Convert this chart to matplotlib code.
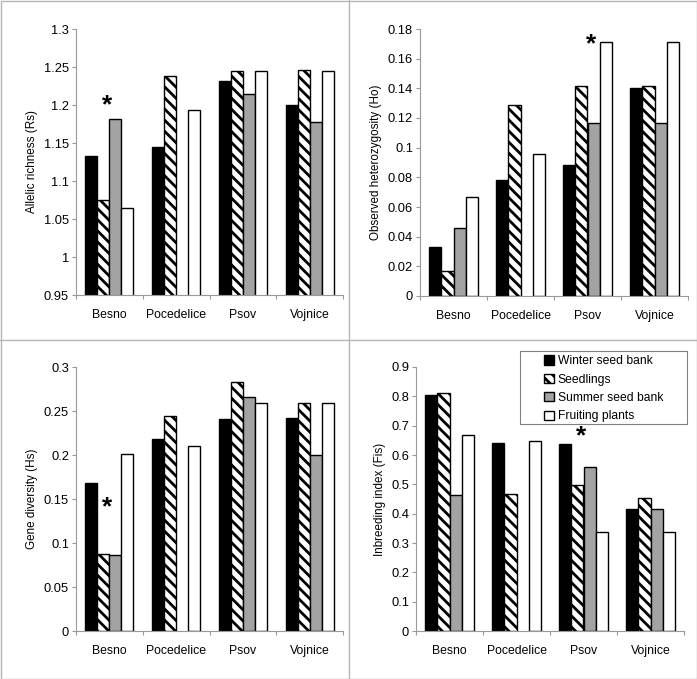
import numpy as np
import matplotlib
matplotlib.use("Agg")
import matplotlib.pyplot as plt
from matplotlib.lines import Line2D
from matplotlib.patches import Rectangle
from matplotlib.ticker import FormatStrFormatter

plt.rcParams['font.family'] = ['Liberation Sans', 'DejaVu Sans']
plt.rcParams['hatch.linewidth'] = 2.0

sites = ['Besno', 'Pocedelice', 'Psov', 'Vojnice']
stages = ['Winter seed bank', 'Seedlings', 'Summer seed bank', 'Fruiting plants']
nan = np.nan

# allelic richness (Rs)
rs_winter = [1.133, 1.145, 1.231, 1.200]
rs_seedlings = [1.075, 1.238, 1.245, 1.246]
rs_summer = [1.182, nan, 1.215, 1.177]
rs_fruiting = [1.064, 1.194, 1.245, 1.245]

# observed heterozygosity (Ho)
ho_winter = [0.033, 0.078, 0.088, 0.140]
ho_seedlings = [0.017, 0.129, 0.1415, 0.1415]
ho_summer = [0.046, nan, 0.1166, 0.1166]
ho_fruiting = [0.067, 0.096, 0.171, 0.171]

# gene diversity (Hs)
hs_winter = [0.168, 0.218, 0.241, 0.242]
hs_seedlings = [0.088, 0.244, 0.283, 0.259]
hs_summer = [0.086, nan, 0.266, 0.200]
hs_fruiting = [0.201, 0.210, 0.259, 0.259]

# inbreeding index (Fis)
fis_winter = [0.803, 0.642, 0.636, 0.417]
fis_seedlings = [0.810, 0.467, 0.497, 0.452]
fis_summer = [0.465, nan, 0.560, 0.417]
fis_fruiting = [0.667, 0.647, 0.336, 0.336]

W, H = 697., 679.
fig = plt.figure(figsize=(W/100, H/100), dpi=100)

def px_axes(left, right, top, bottom):
	return fig.add_axes([left/W, 1-bottom/H, (right-left)/W, (bottom-top)/H])

def panel(ax, series, ylo, yhi, ystep, ylabel, fmt, star):
	x = np.arange(len(sites))
	bw = 0.18
	styles = [dict(color='black'), dict(color='white', hatch='\\\\\\'),
	          dict(color='#a3a3a3'), dict(color='white')]
	for i, vals in enumerate(series):
		ax.bar(x + (i-1.5)*bw, vals, bw, edgecolor='black', linewidth=1.0,
		       label=stages[i], **styles[i])
	ax.set_xlim(-0.5, 3.5)
	ax.set_ylim(ylo, yhi)
	ax.set_yticks(np.arange(ylo, yhi + ystep/2, ystep))
	ax.yaxis.set_major_formatter(FormatStrFormatter(fmt))
	ax.set_xticks([-0.5, 0.5, 1.5, 2.5, 3.5])
	ax.set_xticklabels([])
	ax.set_xticks(x, minor=True)
	ax.set_xticklabels(sites, minor=True, fontsize=8.8)
	ax.tick_params(axis='x', which='minor', length=0, pad=10)
	ax.tick_params(axis='x', which='major', length=3, color='#999999')
	ax.tick_params(axis='y', length=3, color='#999999', pad=2, labelsize=9.3)
	for s in ['top', 'right']:
		ax.spines[s].set_visible(False)
	for s in ['left', 'bottom']:
		ax.spines[s].set_color('#999999')
		ax.spines[s].set_linewidth(0.8)
	ax.set_ylabel(ylabel, fontsize=8.4, labelpad=4)
	ax.text(star[0], star[1], '*', fontsize=19, fontweight='bold', ha='center', va='center')

ax1 = px_axes(76, 343, 29, 295)
panel(ax1, [rs_winter, rs_seedlings, rs_summer, rs_fruiting], 0.95, 1.3, 0.05,
      'Allelic richness (Rs)', '%g', (-0.04, 1.200))

ax2 = px_axes(420, 688, 29, 296)
panel(ax2, [ho_winter, ho_seedlings, ho_summer, ho_fruiting], 0, 0.18, 0.02,
      'Observed heterozygosity (Ho)', '%g', (2.05, 0.170))

ax3 = px_axes(76, 343, 367, 631)
panel(ax3, [hs_winter, hs_seedlings, hs_summer, hs_fruiting], 0, 0.3, 0.05,
      'Gene diversity (Hs)', '%g', (-0.04, 0.140))

ax4 = px_axes(416, 684, 367, 631)
panel(ax4, [fis_winter, fis_seedlings, fis_summer, fis_fruiting], 0, 0.9, 0.1,
      'Inbreeding index (Fis)', '%g', (1.97, 0.665))

# legend: entries without frame, box drawn separately (excel leaves lots of padding)
leg = ax4.legend(loc='upper left', bbox_to_anchor=(543/W, 1-354/H), bbox_transform=fig.transFigure,
                 fontsize=8.7, frameon=False, handlelength=0.85, handleheight=0.8,
                 handletextpad=0.25, labelspacing=0.53, borderpad=0.1, borderaxespad=0)
fig.add_artist(Rectangle((520/W, 1-424/H), 167/W, 73/H, fill=False, edgecolor='#808080', lw=0.8))

# panel dividers and outer frame
gc = '#b5b5b5'
fig.add_artist(Line2D([348.5/W, 348.5/W], [0, 1], color=gc, lw=1))
fig.add_artist(Line2D([0, 1], [1-340/H, 1-340/H], color=gc, lw=1))
fig.add_artist(Rectangle((0.5/W, 0.5/H), 1-1/W, 1-1/H, fill=False, edgecolor=gc, lw=1))

fig.savefig('out.png', dpi=100)
